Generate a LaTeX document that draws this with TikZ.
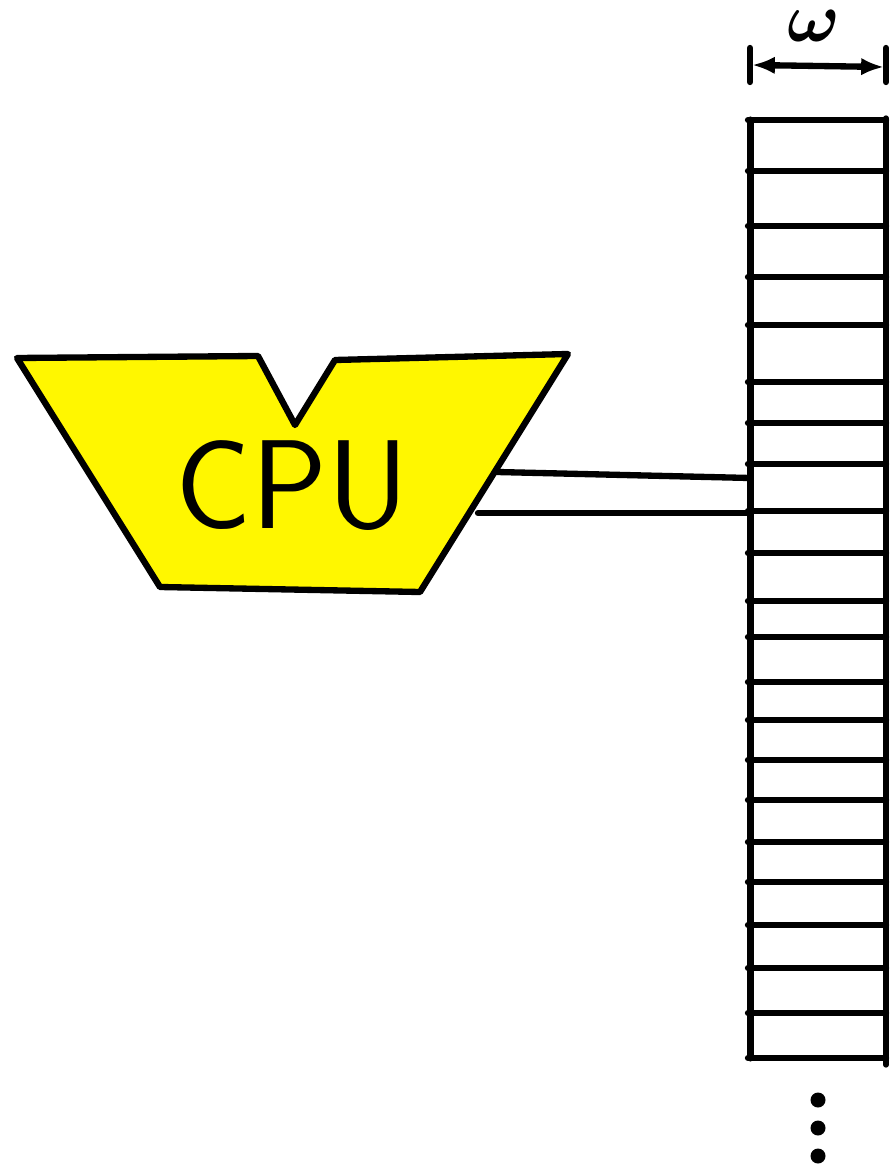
\documentclass[tikz,border=0pt]{standalone}
\usepackage{tikz}
\usetikzlibrary{arrows.meta}
\definecolor{cpuyellow}{RGB}{255,247,0}

\begin{document}
\begin{tikzpicture}[x=0.02cm,y=-0.02cm,line cap=round,line join=round]
        \useasboundingbox (0,0) rectangle (889,1168);
        % CPU body (notched trapezoid)
        \draw[line width=3.6pt,fill=cpuyellow]
          (17,358) -- (258,356) -- (295,425) -- (335,360)
          -- (568,354) -- (420,592) -- (160,587) -- cycle;
        \node[font=\sffamily\fontsize{72}{74}\selectfont] (cpu) at (292,486) {CPU};
        % Memory column
        \draw[line width=4pt] (750,120) -- (750,1058);
        \draw[line width=3pt] (886,118) -- (886,1065);
        \foreach \y in {120,171,226,277,325,382,423,464,511,553,601,637,
                        682,720,760,800,842,882,925,968,1013,1058}
          \draw[line width=3.6pt] (748,\y) -- (886,\y);
        % Word width
        \draw[line width=3.6pt] (750,48) -- (750,82);
        \draw[line width=3.6pt] (886,48) -- (886,82);
        \draw[{Latex[length=13pt,width=10pt]}-{Latex[length=13pt,width=10pt]},line width=3.6pt]
          (752,65) -- (884,67);
        \node[font=\Huge\boldmath,scale=1.6,inner sep=0pt] (wlabel) at (814,26) {$\omega$};
        % Bus (CPU to memory)
        \coordinate (bustop) at (497,472);
        \coordinate (busbot) at (478,513);
        \coordinate (memtop) at (750,478);
        \coordinate (membot) at (750,513);
        \draw[line width=3.6pt] (bustop) -- (memtop);
        \draw[line width=3.6pt] (busbot) -- (membot);
        % More cells below
        \foreach \y in {1100,1128,1156}
          \fill (818,\y) circle (7.5);
      \end{tikzpicture}
\end{document}
